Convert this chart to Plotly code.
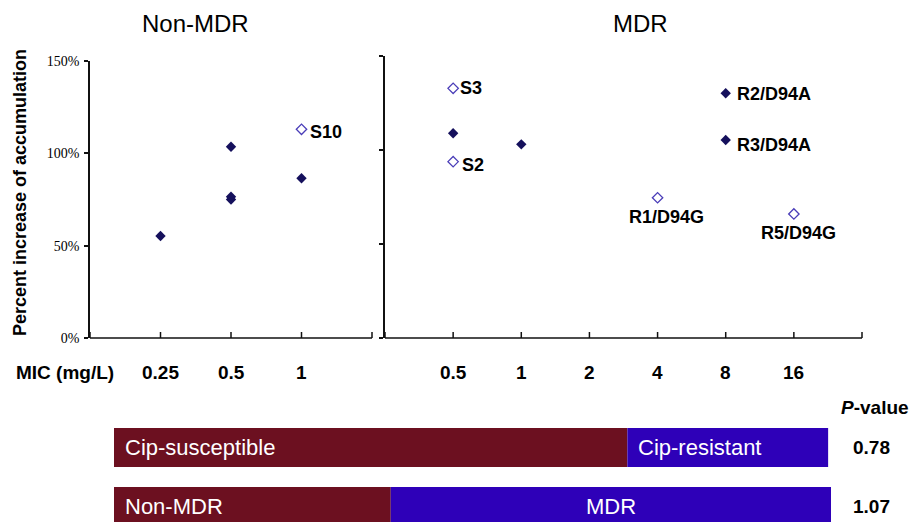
import numpy as np
import plotly.graph_objects as go

W, H = 922, 522

# ---------------- data ----------------
left_filled_mic = [0.25, 0.5, 0.5, 0.5, 1]
left_filled_pct = [55.2, 103.6, 75.0, 76.5, 86.5]
left_open_mic = [1]
left_open_pct = [113.0]
left_open_lbl = ["S10"]

right_filled_mic = [0.5, 1, 8, 8]
right_filled_pct = [108.9, 103.0, 130.2, 105.3]
right_filled_lbl = ["", "", "R2/D94A", "R3/D94A"]
right_open_mic = [0.5, 0.5, 4, 16]
right_open_pct = [132.8, 93.8, 74.6, 66.0]
right_open_lbl = ["S3", "S2", "R1/D94G", "R5/D94G"]

left_ticks = [0.125, 0.25, 0.5, 1, 2]
left_ticktext = ["", "0.25", "0.5", "1", ""]
right_ticks = [0.25, 0.5, 1, 2, 4, 8, 16, 32]
right_ticktext = ["", "0.5", "1", "2", "4", "8", "16", ""]
y_ticks = [0, 50, 100, 150]
y_ticktext = ["0%", "50%", "100%", "150%"]

bar_rows = [0, 1]
seg1_vals = [71.6, 38.6]
seg1_text = ["Cip-susceptible", "Non-MDR"]
seg2_vals = [28.0, 61.4]
seg2_text = ["Cip-resistant", "MDR"]
p_values = ["0.78", "1.07"]

# ---------------- style ----------------
FILLED = "#15105c"
OPEN = "#4a3db8"
MAROON = "#6c1020"
BLUE = "#2e00b8"
LINE = "#111111"
SANS = "Liberation Sans, Arial, sans-serif"
SERIF = "Liberation Serif, Times New Roman, serif"


def px(xp):
    return xp / W


def py(yp):
    return 1 - yp / H


X1_DOM = [px(90), px(372)]
X1_RNG = [np.log10(0.125), np.log10(2)]
X2_DOM = [px(385), px(862)]
X2_RNG = [np.log10(0.25), np.log10(32)]
Y_BASE = 338


def log_to_paper(v, dom, rng):
    return dom[0] + (np.log10(v) - rng[0]) / (rng[1] - rng[0]) * (dom[1] - dom[0])


fig = go.Figure()

mk_f = dict(symbol="diamond", size=8, color=FILLED, line=dict(width=0))
mk_o = dict(symbol="diamond-open", size=8, color=OPEN, line=dict(width=1.3, color=OPEN))

fig.add_trace(go.Scatter(x=left_filled_mic, y=left_filled_pct, mode="markers",
                         marker=mk_f, xaxis="x", yaxis="y", showlegend=False, cliponaxis=False))
fig.add_trace(go.Scatter(x=left_open_mic, y=left_open_pct, mode="markers",
                         marker=mk_o, xaxis="x", yaxis="y", showlegend=False, cliponaxis=False))
fig.add_trace(go.Scatter(x=right_filled_mic, y=right_filled_pct, mode="markers",
                         marker=mk_f, xaxis="x2", yaxis="y2", showlegend=False, cliponaxis=False))
fig.add_trace(go.Scatter(x=right_open_mic, y=right_open_pct, mode="markers",
                         marker=mk_o, xaxis="x2", yaxis="y2", showlegend=False, cliponaxis=False))

# stacked horizontal bars
fig.add_trace(go.Bar(y=bar_rows, x=seg1_vals, orientation="h", marker=dict(color=MAROON, line=dict(width=0)),
                     width=0.66, xaxis="x3", yaxis="y3", showlegend=False))
fig.add_trace(go.Bar(y=bar_rows, x=seg2_vals, base=seg1_vals, orientation="h",
                     marker=dict(color=BLUE, line=dict(width=0)),
                     width=0.66, xaxis="x3", yaxis="y3", showlegend=False))

annotations = []
shapes = []

# point labels
lbl_font = dict(family=SANS, size=18, color="black")
offsets = {
    "S10": ("left", 6, -3),
    "S3": ("left", 5, 0),
    "S2": ("left", 7, -3),
    "R2/D94A": ("left", 9, -1),
    "R3/D94A": ("left", 9, -5),
    "R1/D94G": ("center", 9, -19),
    "R5/D94G": ("center", 5, -19),
}
for xs, ys, ls, xr, yr in [
    (left_open_mic, left_open_pct, left_open_lbl, "x", "y"),
    (right_filled_mic, right_filled_pct, right_filled_lbl, "x2", "y2"),
    (right_open_mic, right_open_pct, right_open_lbl, "x2", "y2"),
]:
    for xv, yv, lb in zip(xs, ys, ls):
        if not lb:
            continue
        anc, xs_, ys_ = offsets[lb]
        annotations.append(dict(x=np.log10(xv), y=yv, xref=xr, yref=yr, text="<b>%s</b>" % lb,
                                showarrow=False, xanchor=anc, yanchor="middle",
                                xshift=xs_, yshift=ys_, font=lbl_font))

# bar labels
bar_font = dict(family=SANS, size=22, color="white")
for r, v1, t1, v2, t2 in zip(bar_rows, seg1_vals, seg1_text, seg2_vals, seg2_text):
    annotations.append(dict(x=0, y=r, xref="x3", yref="y3", text=t1, showarrow=False,
                            xanchor="left", xshift=9, font=bar_font))
    if t2 == "MDR":
        annotations.append(dict(x=v1 + v2 / 2, y=r, xref="x3", yref="y3", text=t2, showarrow=False,
                                xanchor="center", font=bar_font))
    else:
        annotations.append(dict(x=v1, y=r, xref="x3", yref="y3", text=t2, showarrow=False,
                                xanchor="left", xshift=9, font=bar_font))

# P-values
bold20 = dict(family=SANS, size=19, color="black")
annotations.append(dict(x=px(875), y=py(407), xref="paper", yref="paper", text="<b><i>P</i>-value</b>",
                        showarrow=False, xanchor="center", yanchor="middle", font=bold20))
for r, pv in zip(bar_rows, p_values):
    annotations.append(dict(x=px(871), y=r, xref="paper", yref="y3", text="<b>%s</b>" % pv,
                            showarrow=False, xanchor="center", yanchor="middle", font=bold20))

# titles & axis labels
title_font = dict(family=SANS, size=24, color="black")
annotations.append(dict(x=px(195), y=py(24), xref="paper", yref="paper", text="Non-MDR",
                        showarrow=False, xanchor="center", yanchor="middle", font=title_font))
annotations.append(dict(x=px(640), y=py(24), xref="paper", yref="paper", text="MDR",
                        showarrow=False, xanchor="center", yanchor="middle", font=title_font))
annotations.append(dict(x=px(20), y=py(193), xref="paper", yref="paper",
                        text="<b>Percent increase of accumulation</b>", textangle=-90,
                        showarrow=False, xanchor="center", yanchor="middle",
                        font=dict(family=SANS, size=18, color="black")))
annotations.append(dict(x=px(65), y=py(372), xref="paper", yref="paper", text="<b>MIC (mg/L)</b>",
                        showarrow=False, xanchor="center", yanchor="middle", font=bold20))

# x axis baseline, inside ticks and tick labels for each panel (from the axis scale)
for ticks_, texts_, xr, dom, rng in [(left_ticks, left_ticktext, "x", X1_DOM, X1_RNG),
                                     (right_ticks, right_ticktext, "x2", X2_DOM, X2_RNG)]:
    shapes.append(dict(type="line", xref="paper", yref="paper", x0=dom[0], x1=dom[1],
                       y0=py(Y_BASE), y1=py(Y_BASE), line=dict(color=LINE, width=1.5), layer="above"))
    for v, t in zip(ticks_, texts_):
        xp_ = log_to_paper(v, dom, rng)
        shapes.append(dict(type="line", xref="paper", yref="paper", x0=xp_, x1=xp_,
                           y0=py(Y_BASE), y1=py(Y_BASE - 6), line=dict(color=LINE, width=1.5),
                           layer="above"))
        if t:
            annotations.append(dict(x=np.log10(v), y=py(372), xref=xr, yref="paper",
                                    text="<b>%s</b>" % t, showarrow=False, xanchor="center",
                                    yanchor="middle", font=bold20))

common_x = dict(showgrid=False, zeroline=False, showline=False, visible=True,
                ticks="", automargin=False, showticklabels=False, type="log")
common_y = dict(showgrid=False, showline=True, linecolor=LINE, linewidth=1.5, zeroline=False,
                ticks="outside", ticklen=4, tickcolor=LINE, tickwidth=1.5, automargin=False,
                range=[0, 150], tickmode="array", tickvals=y_ticks)

fig.update_layout(
    template="none",
    width=W, height=H,
    margin=dict(l=0, r=0, t=0, b=0, pad=0),
    paper_bgcolor="white", plot_bgcolor="white",
    barmode="overlay",
    xaxis=dict(**common_x, anchor="y", domain=X1_DOM, range=X1_RNG),
    yaxis=dict(**common_y, domain=[py(Y_BASE), py(61)], anchor="x",
               ticktext=y_ticktext, ticklabelstandoff=2,
               tickfont=dict(family=SERIF, size=14, color="black")),
    xaxis2=dict(**common_x, anchor="y2", domain=X2_DOM, range=X2_RNG),
    yaxis2=dict(**common_y, domain=[py(Y_BASE), py(56)], anchor="x2", showticklabels=False),
    xaxis3=dict(domain=[px(114), px(831)], range=[0, 100], anchor="y3", visible=False,
                fixedrange=True, automargin=False),
    yaxis3=dict(domain=[0, py(418)], range=[1.2627, -0.5], anchor="x3", visible=False,
                fixedrange=True, automargin=False),
    annotations=annotations,
    shapes=shapes,
)

fig.write_html("out.html", config={"displayModeBar": False},
               post_script="document.body.style.margin='0';document.body.style.overflow='hidden';")
